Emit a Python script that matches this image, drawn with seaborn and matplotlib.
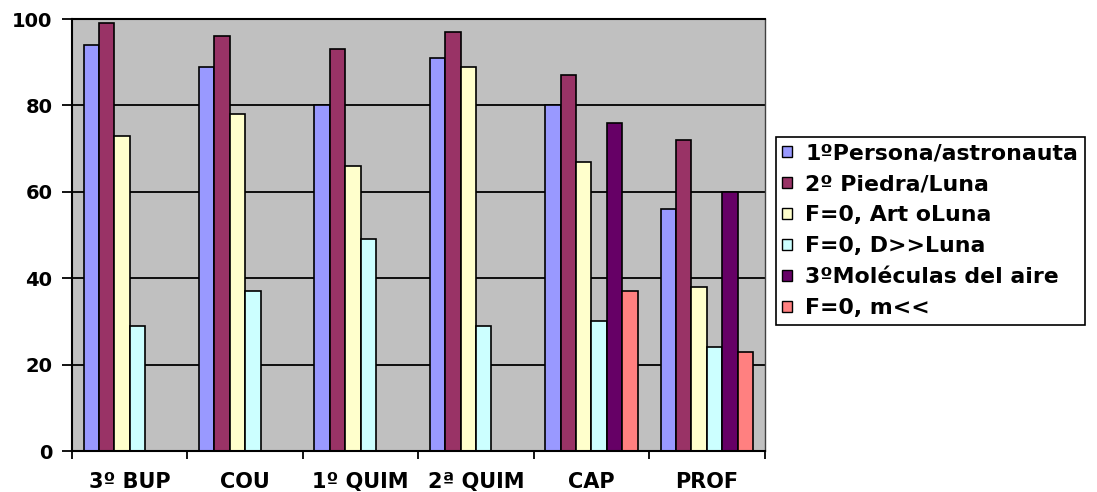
import numpy as np
import pandas as pd
import matplotlib
matplotlib.use("Agg")
import matplotlib.pyplot as plt
import seaborn as sns
from matplotlib.patches import Patch

categories = ["3º BUP", "COU", "1º QUIM", "2ª QUIM", "CAP", "PROF"]
series = ["1ºPersona/astronauta", "2º Piedra/Luna", "F=0, Art oLuna",
          "F=0, D>>Luna", "3ºMoléculas del aire", "F=0, m<<"]
persona = [94, 89, 80, 91, 80, 56]
piedra = [99, 96, 93, 97, 87, 72]
art_luna = [73, 78, 66, 89, 67, 38]
d_luna = [29, 37, 49, 29, 30, 24]
moleculas = [np.nan, np.nan, np.nan, np.nan, 76, 60]
m_menor = [np.nan, np.nan, np.nan, np.nan, 37, 23]
colors = ["#9999FF", "#993366", "#FFFFCC", "#CCFFFF", "#660066", "#FF8080"]

rows = []
for name, vals in zip(series, [persona, piedra, art_luna, d_luna, moleculas, m_menor]):
    for cat, v in zip(categories, vals):
        rows.append({"cat": cat, "serie": name, "valor": v})
df = pd.DataFrame(rows).dropna()

sns.set_style("white")
plt.rcParams["font.family"] = ["DejaVu Sans"]
plt.rcParams["text.color"] = "black"
plt.rcParams["xtick.color"] = "black"
plt.rcParams["ytick.color"] = "black"

fig = plt.figure(figsize=(10.97, 4.92), dpi=100)
ax = fig.add_axes([0.0656, 0.0833, 0.6314, 0.878])
ax.set_facecolor("#C0C0C0")

sns.barplot(data=df, x="cat", y="valor", hue="serie", order=categories,
            hue_order=series, palette=colors, edgecolor="black", linewidth=1.2,
            width=0.8, saturation=1, errorbar=None, legend=False, ax=ax)

ax.set_ylim(0, 100)
ax.set_xlim(-0.5, 5.5)
ax.set_yticks([0, 20, 40, 60, 80, 100])
ax.yaxis.grid(True, color="black", linewidth=1.3)
ax.set_axisbelow(True)
ax.set_xlabel("")
ax.set_ylabel("")

ax.set_xticks(range(len(categories)))
ax.set_xticklabels(categories, fontsize=15, fontweight="bold")
ax.set_xticks(np.arange(-0.5, 6, 1), minor=True)
ax.tick_params(axis="x", which="major", bottom=True, length=0, pad=15)
ax.tick_params(axis="x", which="minor", bottom=True, length=6, width=1.3,
               direction="out", color="black")
ax.tick_params(axis="y", left=True, length=7, width=1.3, direction="out",
               color="black", pad=7)
for lab in ax.get_yticklabels():
    lab.set_fontsize(14)
    lab.set_fontweight("bold")

for side in ["left", "bottom", "top"]:
    ax.spines[side].set_color("black")
    ax.spines[side].set_linewidth(1.5)
ax.spines["right"].set_color("#404040")
ax.spines["right"].set_linewidth(1.0)

# leyenda a la derecha, recortada por el borde como en el original
handles = [Patch(facecolor=c, edgecolor="black", linewidth=1.0) for c in colors]
leg = fig.legend(handles, series, loc="upper left", bbox_to_anchor=(0.707, 0.722),
                 frameon=True, fancybox=False, framealpha=1,
                 handlelength=0.45, handleheight=0.45,
                 handletextpad=0.6, labelspacing=0.5, borderpad=0.3,
                 borderaxespad=0, prop={"size": 15.8, "weight": "bold"})
leg.get_frame().set_edgecolor("black")
leg.get_frame().set_linewidth(1.2)

fig.savefig("out.png", dpi=100)
